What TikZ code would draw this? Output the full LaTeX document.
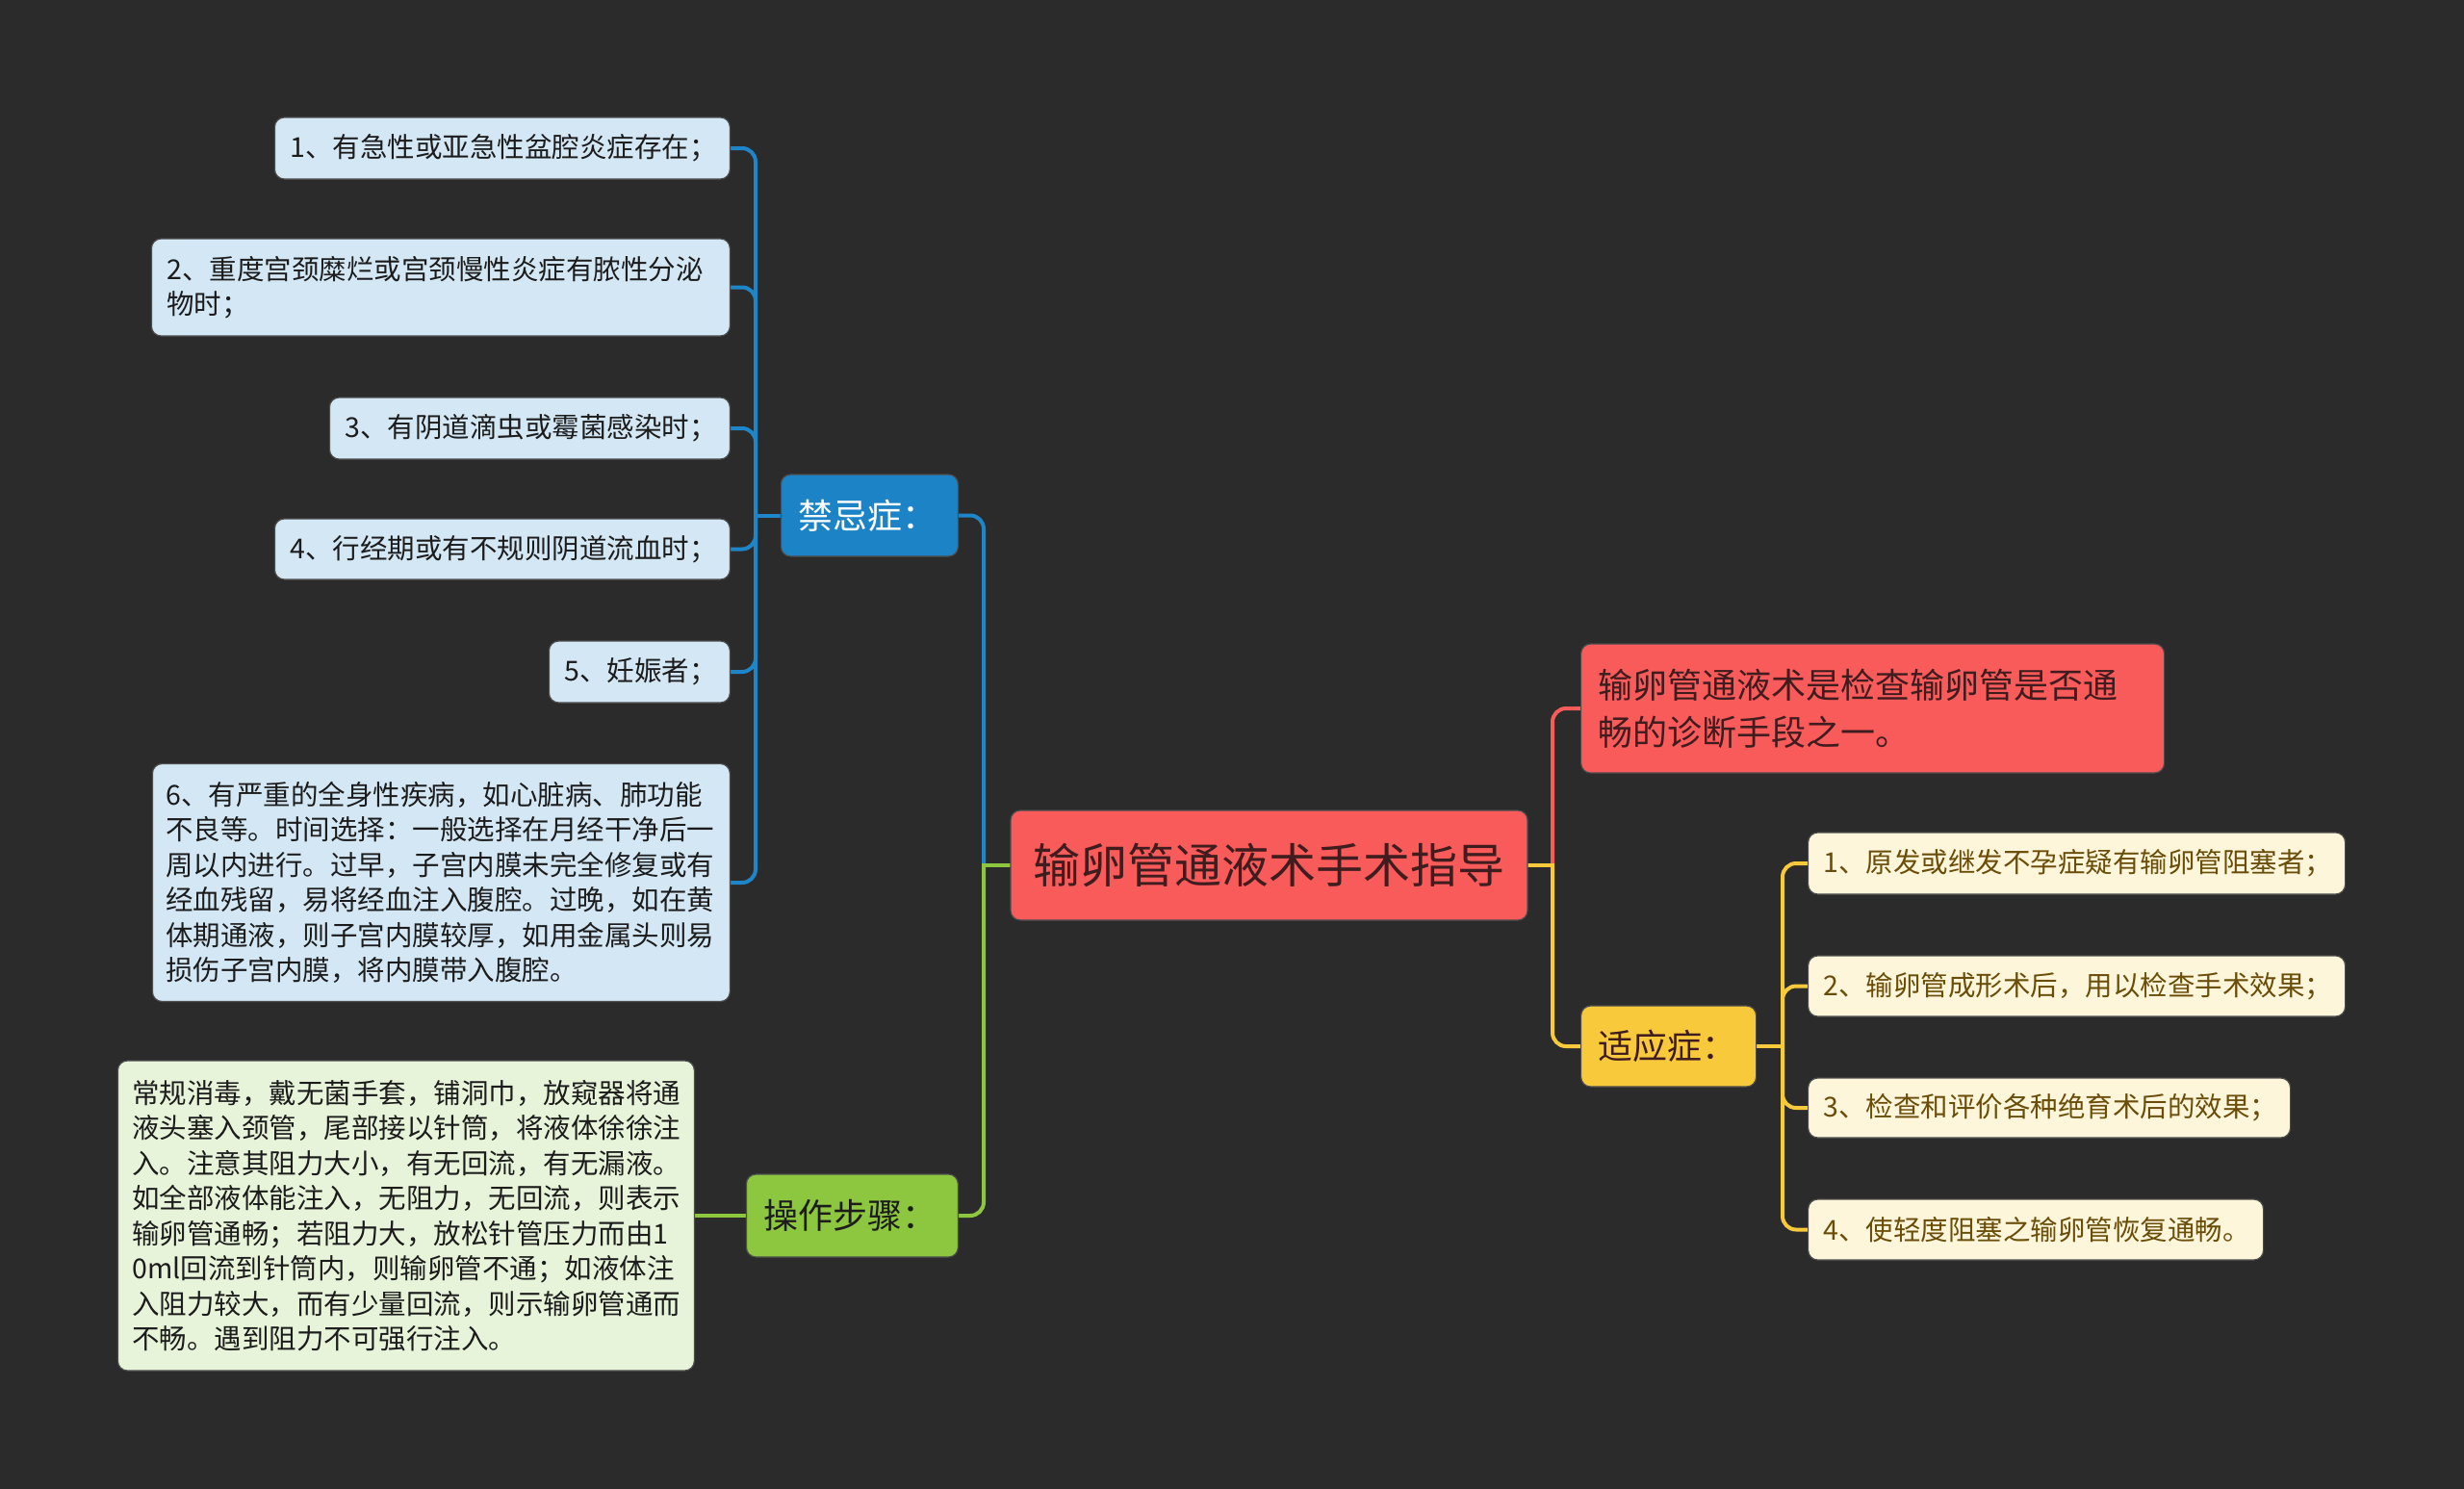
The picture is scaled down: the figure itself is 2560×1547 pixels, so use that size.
\documentclass[tikz,border=0pt]{standalone}
\usepackage{fontspec}
\setmainfont{Noto Sans CJK SC}
\usetikzlibrary{calc}
\definecolor{bgc}{HTML}{2B2B2B}
\definecolor{bluen}{HTML}{1C84C6}
\definecolor{bluel}{HTML}{1E86C8}
\definecolor{bluec}{HTML}{D3E7F4}
\definecolor{greenn}{HTML}{8DC63F}
\definecolor{greenc}{HTML}{E7F4D9}
\definecolor{redn}{HTML}{F95A5A}
\definecolor{yellown}{HTML}{F9C93C}
\definecolor{yellowc}{HTML}{FEF6DA}
\definecolor{yellowt}{HTML}{6B4D0A}
\definecolor{darkt}{HTML}{1C1C1C}
\definecolor{redt}{HTML}{3F1C1E}
\pgfdeclarelayer{back}
\pgfdeclarelayer{lines}
\pgfsetlayers{back,lines,main}
\tikzset{
  box/.style={rounded corners=10, inner ysep=0pt, align=left, draw=black!70, line width=1.2pt},
  childtxt/.style={font=\fontsize{28.5}{36.5}\selectfont},
  bluechild/.style={box, childtxt, fill=bluec, text=darkt, inner xsep=16pt},
  yellowchild/.style={box, childtxt, fill=yellowc, text=yellowt, inner xsep=16pt},
  mainbox/.style={box, font=\fontsize{36}{49}\selectfont, inner xsep=18pt},
  conn/.style={line width=4pt},
  blueline/.style={conn, draw=bluel},
  greenline/.style={conn, draw=greenn},
  redline/.style={conn, draw=redn},
  yellowline/.style={conn, draw=yellown},
}
\begin{document}
\begin{tikzpicture}[x=1pt, y=-1pt]
\begin{pgfonlayer}{back}
\fill[bgc] (0,0) rectangle (2560,1547);
\end{pgfonlayer}
\useasboundingbox (0,0) rectangle (2560,1547);

% center
\node[box, fill=redn, text=redt, align=center, font=\fontsize{49}{58}\selectfont,
  minimum width=537, minimum height=114, inner xsep=0pt] (c) at (1318.5,899) {输卵管通液术手术指导};

% main branches
\node[mainbox, fill=bluen, text=white, text width=148pt, minimum height=85, anchor=east] (jk) at (996,535.5) {禁忌症：};
\node[mainbox, fill=greenn, text=darkt, text width=184pt, minimum height=86, anchor=east] (op) at (996,1263) {操作步骤：};
\node[mainbox, fill=yellown, text=redt, text width=146pt, minimum height=84, anchor=west] (sy) at (1642,1087) {适应症：};
\node[mainbox, fill=redn, text=redt, text width=570pt, minimum height=134, anchor=west] (r) at (1642,736) {输卵管通液术是检查输卵管是否通\\畅的诊断手段之一。};

% blue children
\node[bluechild, text width=441pt, minimum height=64, anchor=east] (b1) at (759,154) {1、有急性或亚急性盆腔炎症存在；};
\node[bluechild, text width=569pt, minimum height=101, anchor=east] (b2) at (759,298.5) {2、重度宫颈糜烂或宫颈慢性炎症有脓性分泌\\物时；};
\node[bluechild, text width=384pt, minimum height=64, anchor=east] (b3) at (759,445) {3、有阴道滴虫或霉菌感染时；};
\node[bluechild, text width=441pt, minimum height=63, anchor=east] (b4) at (759,570.5) {4、行经期或有不规则阴道流血时；};
\node[bluechild, text width=156pt, minimum height=64, anchor=east] (b5) at (759,698) {5、妊娠者；};
\node[bluechild, text width=572pt, inner xsep=14pt, minimum height=247, anchor=east] (b6) at (759,917) {6、有严重的全身性疾病，如心脏病、肺功能\\不良等。时间选择：一般选择在月经干净后一\\周以内进行。过早，子宫内膜未完全修复或有\\经血残留，易将经血注入腹腔。过晚，如在黄\\体期通液，则子宫内膜较厚，如用金属头则易\\损伤子宫内膜，将内膜带入腹腔。};

% green child
\node[box, childtxt, fill=greenc, text=darkt, inner xsep=15pt, text width=569pt, minimum height=322, anchor=east] (g) at (722,1263) {常规消毒，戴无菌手套，铺洞巾，放窥器将通\\液头塞入颈管，尾部接以针筒，将液体徐徐注\\入。注意其阻力大小，有无回流，有无漏液。\\如全部液体能注入，无阻力，无回流，则表示\\输卵管通畅；若阻力大，放松针管压力而由1\\0ml回流到针筒内，则输卵管不通；如液体注\\入阻力较大，而有少量回流，则示输卵管通而\\不畅。遇到阻力不可强行注入。};

% yellow children
\node[yellowchild, text width=526pt, minimum height=64, anchor=west] (y1) at (1878,897) {1、原发或继发不孕症疑有输卵管阻塞者；};
\node[yellowchild, text width=526pt, minimum height=63, anchor=west] (y2) at (1878,1024.5) {2、输卵管成形术后，用以检查手术效果；};
\node[yellowchild, text width=469pt, minimum height=62, anchor=west] (y3) at (1878,1151) {3、检查和评价各种绝育术后的效果；};
\node[yellowchild, text width=441pt, minimum height=63, anchor=west] (y4) at (1878,1277.5) {4、使轻度阻塞之输卵管恢复通畅。};

% junctions
\coordinate (CL) at (1022,899);
\coordinate (CR) at (1613,899);
\coordinate (JK) at (785,535.5);
\coordinate (JY) at (1852,1087);

\begin{pgfonlayer}{lines}
\draw[blueline, rounded corners=14] (CL) -- (CL |- jk.east) -- (jk.east);
\draw[greenline, rounded corners=14] (CL) -- (CL |- op.east) -- (op.east);
\draw[greenline, line cap=rect] (c.west) -- (CL);
\draw[redline, rounded corners=14] (CR) -- (CR |- r.west) -- (r.west);
\draw[yellowline, rounded corners=14] (CR) -- (CR |- sy.west) -- (sy.west);
\draw[yellowline, line cap=rect] (c.east) -- (CR);

\draw[blueline] (jk.west) -- (JK);
\foreach \n in {b1,b2,b3,b4,b5,b6}
  \draw[blueline, rounded corners=14] (JK) -- (JK |- \n.east) -- (\n.east);

\draw[yellowline] (sy.east) -- (JY);
\foreach \n in {y1,y2,y3,y4}
  \draw[yellowline, rounded corners=14] (JY) -- (JY |- \n.west) -- (\n.west);

\draw[greenline] (op.west) -- (g.east);
\end{pgfonlayer}
\end{tikzpicture}
\end{document}
